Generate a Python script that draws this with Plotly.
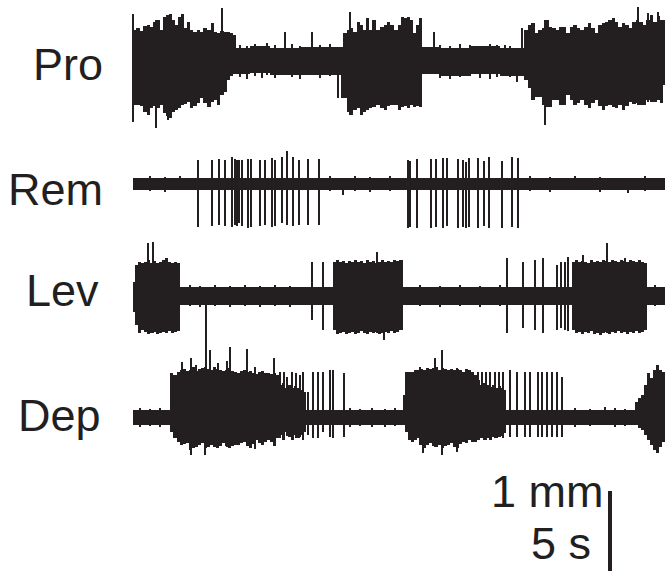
import plotly.graph_objects as go

INK = "#231f20"
FONT = "Liberation Sans, Arial, sans-serif"

# ---------------- data (time in samples, amplitude in a.u.; 80 a.u. = 1 mm) ----------------
CHANNELS = ["Pro", "Rem", "Lev", "Dep"]

# background noise bands: start, end, upper, lower
pro_band_t0 = [132, 250, 270, 300, 343, 440, 470, 500, 530]
pro_band_t1 = [250, 270, 300, 343, 440, 470, 500, 530, 665]
pro_band_hi = [14, 16, 14, 15, 15, 14, 16, 14, 14]
pro_band_lo = [-12, -11, -13, -13, -12, -14, -12, -14, -13]

rem_band_t0 = [133]
rem_band_t1 = [665]
rem_band_hi = [6]
rem_band_lo = [-6]

lev_band_t0 = [133]
lev_band_t1 = [665]
lev_band_hi = [9]
lev_band_lo = [-9]

dep_band_t0 = [133]
dep_band_t1 = [665]
dep_band_hi = [7]
dep_band_lo = [-8]

# bursts: sampled envelopes
pro_b1_t = [133, 136, 140, 143, 147, 150, 153, 156, 160, 163, 166, 169, 172, 175, 178, 181, 184, 187, 190, 193,
            197, 200, 203, 207, 211, 214, 217, 220, 224, 227, 230, 233]
pro_b1_hi = [32, 34, 31, 36, 37, 35, 40, 42, 32, 45, 47, 48, 42, 37, 45, 48, 34, 40, 32, 30,
             32, 30, 34, 32, 39, 30, 29, 31, 30, 30, 29, 27]
pro_b1_lo = [-43, -43, -44, -50, -53, -46, -44, -46, -43, -51, -54, -56, -50, -48, -46, -43, -42, -40, -46, -44,
             -41, -36, -41, -45, -40, -38, -43, -33, -30, -18, -14, -12]
pro_b1_end = 236

pro_b2_t = [343, 347, 350, 353, 357, 360, 363, 366, 369, 372, 376, 380, 384, 387, 390, 394, 398, 401, 404, 407,
            410, 413, 416, 419]
pro_b2_hi = [29, 32, 34, 30, 40, 37, 32, 44, 32, 42, 32, 35, 37, 40, 37, 32, 37, 45, 44, 45, 42, 29, 37, 44]
pro_b2_lo = [-36, -50, -53, -48, -46, -53, -50, -48, -46, -45, -43, -46, -48, -44, -43, -43, -48, -45, -44, -46,
             -43, -45, -44, -45]
pro_b2_end = 422

pro_b3_t = [524, 528, 531, 535, 538, 542, 545, 549, 552, 556, 559, 563, 566, 570, 573, 577, 580, 584, 588, 591,
            595, 598, 602, 605, 608, 612, 615, 618, 622, 625, 629, 632, 636, 639, 643, 646, 650, 653, 657, 660, 663]
pro_b3_hi = [32, 37, 39, 29, 32, 34, 42, 35, 34, 32, 35, 35, 29, 35, 37, 34, 32, 35, 39, 34,
             29, 37, 39, 40, 42, 44, 40, 35, 39, 37, 34, 40, 42, 40, 37, 42, 47, 40, 46, 42, 42]
pro_b3_lo = [-18, -26, -38, -35, -35, -43, -45, -45, -38, -38, -43, -43, -33, -38, -43, -41, -38, -43, -46, -41,
             -38, -44, -48, -44, -43, -45, -46, -43, -48, -44, -40, -42, -41, -43, -43, -38, -40, -40, -38, -41, -23]
pro_b3_end = 666

lev_b1_t = [133, 135, 138, 141, 144, 147, 150, 153, 156, 159, 162, 165, 168, 171, 174, 177]
lev_b1_hi = [14, 31, 34, 33, 34, 36, 33, 35, 33, 34, 36, 38, 34, 33, 34, 33]
lev_b1_lo = [-16, -29, -37, -34, -36, -38, -37, -36, -38, -37, -36, -37, -35, -37, -36, -35]
lev_b1_end = 180

lev_b2_t = [333, 336, 339, 342, 345, 348, 351, 354, 357, 360, 363, 366, 369, 372, 375, 378, 381, 384, 387, 390,
            393, 396, 399]
lev_b2_hi = [34, 36, 34, 35, 33, 35, 34, 36, 34, 35, 33, 36, 34, 35, 33, 34, 36, 34, 35, 34, 36, 35, 36]
lev_b2_lo = [-34, -38, -37, -36, -38, -37, -36, -38, -37, -35, -37, -38, -36, -37, -36, -38, -37, -36, -37, -35,
             -37, -36, -34]
lev_b2_end = 403

lev_b3_t = [572, 575, 578, 581, 584, 587, 590, 593, 596, 599, 602, 605, 608, 611, 614, 617, 620, 623, 626, 629,
            632, 635, 638, 641, 644]
lev_b3_hi = [34, 36, 34, 35, 34, 33, 36, 34, 35, 34, 36, 35, 34, 36, 35, 34, 36, 35, 34, 36, 35, 34, 36, 34, 33]
lev_b3_lo = [-34, -37, -36, -38, -36, -37, -35, -38, -37, -39, -37, -36, -38, -36, -37, -35, -37, -36, -38, -36,
             -37, -35, -37, -36, -34]
lev_b3_end = 647

dep_b1_t = [170, 173, 177, 180, 183, 186, 189, 192, 195, 198, 201, 204, 207, 210, 213, 216, 219, 222, 225, 228,
            231, 234, 237, 240, 243, 246, 249, 252, 255, 258, 261, 264, 267, 270, 273, 276, 279, 282, 285, 288,
            291, 294, 297, 300, 303]
dep_b1_hi = [44, 42, 45, 47, 48, 46, 47, 50, 46, 48, 49, 46, 48, 47, 50, 48, 47, 46, 47, 49,
             46, 45, 44, 46, 47, 45, 46, 44, 43, 45, 46, 44, 44, 43, 44, 42, 32, 34, 29, 32,
             29, 31, 29, 27, 25]
dep_b1_lo = [-15, -21, -25, -28, -27, -26, -33, -31, -30, -28, -26, -31, -30, -28, -30, -31, -29, -26, -29, -31,
             -29, -28, -28, -26, -25, -29, -31, -27, -23, -26, -28, -25, -23, -25, -29, -21, -18, -23, -15, -20,
             -23, -18, -21, -18, -15]
dep_b1_end = 306

dep_b2_t = [403, 405, 408, 411, 414, 417, 420, 423, 426, 429, 432, 435, 438, 441, 444, 447, 450, 453, 456, 459,
            462, 465, 468, 471, 474, 477, 480, 483, 486, 489, 492, 495, 498, 501, 504]
dep_b2_hi = [22, 45, 45, 45, 47, 47, 48, 47, 49, 48, 49, 50, 47, 49, 48, 47, 48, 47, 48, 47,
             45, 48, 47, 45, 42, 37, 32, 34, 32, 30, 32, 29, 31, 29, 27]
dep_b2_lo = [-6, -15, -23, -25, -23, -21, -28, -31, -28, -26, -29, -30, -28, -31, -29, -28, -26, -30, -31, -27,
             -25, -26, -23, -25, -25, -23, -21, -23, -21, -23, -20, -21, -20, -19, -16]
dep_b2_end = 506

dep_b3_t = [635, 638, 641, 644, 647, 650, 653, 656, 659, 662]
dep_b3_hi = [15, 19, 22, 32, 44, 39, 47, 52, 47, 45]
dep_b3_lo = [-8, -11, -13, -18, -23, -28, -33, -36, -30, -25]
dep_b3_end = 666

# individual spikes / noise peaks: time, upper, lower
pro_sp_t = [133, 156, 168, 222, 285, 312, 338, 342, 350, 434, 505, 517, 522, 545, 638, 648, 658,
            240, 247, 255, 262, 267, 275, 292, 300, 320, 330, 440, 450, 460, 470, 480, 490, 497, 510]
pro_sp_hi = [48, 42, 46, 54, 30, 30, 10, 12, 50, 30, 17, 12, 34, 42, 55, 49, 50,
             17, 16, 18, 15, 19, 17, 18, 16, 17, 18, 17, 16, 18, 17, 16, 18, 17, 16]
pro_sp_lo = [-60, -66, -58, -31, -6, -8, -36, -36, -53, -12, -12, -20, -13, -63, -43, -40, -38,
             -15, -17, -14, -16, -13, -16, -15, -17, -16, -14, -16, -17, -15, -14, -16, -17, -15, -15]

rem_sp_t = [198, 212, 219, 225, 232, 235, 237, 239, 242, 248, 251, 260, 265, 272, 275, 282, 287, 293, 299, 308, 319,
            408, 410, 417, 431, 436, 443, 447, 458, 463, 466, 469, 478, 484, 489, 502, 512, 518,
            150, 165, 180, 330, 343, 355, 370, 390, 530, 550, 575, 600, 628, 645]
rem_sp_hi = [24, 24, 25, 24, 27, 25, 24, 24, 24, 25, 25, 24, 24, 26, 24, 27, 33, 27, 24, 25, 25,
             24, 23, 25, 25, 25, 26, 26, 25, 24, 22, 26, 26, 23, 27, 23, 27, 26,
             8, 7, 8, 8, 5, 8, 7, 8, 8, 7, 8, 7, 5, 8]
rem_sp_lo = [-43, -42, -41, -42, -43, -41, -42, -39, -42, -44, -43, -42, -41, -43, -42, -39, -41, -42, -41, -41, -41,
             -44, -43, -44, -44, -43, -44, -42, -44, -43, -44, -43, -44, -42, -44, -44, -43, -44,
             -7, -8, -6, -7, -11, -7, -8, -7, -7, -8, -6, -8, -9, -7]

lev_sp_t = [148, 153, 206, 312, 323, 377, 384, 507, 523, 535, 543, 557, 561, 565, 568, 583, 607, 625,
            190, 200, 215, 230, 245, 260, 275, 290, 420, 440, 460, 480, 500, 655]
lev_sp_hi = [53, 54, 5, 34, 34, 44, 34, 38, 34, 36, 38, 31, 34, 34, 39, 41, 53, 38,
             11, 10, 11, 10, 11, 10, 11, 10, 11, 10, 11, 10, 11, 11]
lev_sp_lo = [-36, -37, -49, -24, -34, -37, -44, -37, -32, -34, -37, -34, -32, -34, -35, -36, -37, -36,
             -10, -11, -10, -11, -10, -11, -10, -11, -10, -11, -10, -11, -10, -10]

dep_sp_t = [182, 191, 196, 205, 206, 210, 218, 227, 230, 247, 255, 274, 280, 284, 287, 292, 296, 300, 303,
            308, 313, 318, 323, 330, 333, 344, 420, 423, 435, 442, 457, 478, 482, 486, 490, 495, 499, 503,
            510, 517, 525, 530, 538, 542, 547, 552, 557, 562, 605,
            140, 150, 160, 350, 360, 372, 385, 395, 575, 590, 615, 625]
dep_sp_hi = [55, 59, 52, 50, 79, 67, 54, 56, 70, 68, 50, 59, 45, 45, 40, 45, 44, 42, 45,
             25, 45, 45, 45, 47, 47, 44, 50, 47, 59, 67, 49, 45, 45, 45, 45, 45, 45, 45,
             47, 45, 45, 45, 45, 45, 45, 45, 45, 40, 10,
             9, 8, 9, 9, 8, 9, 8, 9, 9, 8, 9, 8]
dep_sp_lo = [-28, -38, -30, -38, -30, -28, -31, -30, -31, -29, -32, -29, -21, -23, -19, -23, -21, -20, -23,
             -18, -21, -21, -15, -20, -21, -20, -28, -36, -30, -38, -35, -23, -21, -23, -21, -21, -20, -21,
             -20, -20, -20, -20, -20, -20, -20, -20, -20, -20, -8,
             -10, -9, -10, -10, -9, -10, -10, -9, -10, -9, -10, -9]

# scale bar
SCALE_LABEL_V = "1 mm"
SCALE_LABEL_T = "5 s"
SCALE_LEN = 80  # a.u. per 1 mm

# ---------------- layout constants ----------------
W, H = 665, 571
OFFSET = {"Pro": 509, "Rem": 387, "Lev": 275, "Dep": 154}
LABEL_X = {"Pro": 105, "Rem": 105, "Lev": 101, "Dep": 103}
LABEL_Y = {"Pro": 507, "Rem": 382, "Lev": 281, "Dep": 156}
SPIKE_W = 2.0

bands = {
    "Pro": (pro_band_t0, pro_band_t1, pro_band_hi, pro_band_lo),
    "Rem": (rem_band_t0, rem_band_t1, rem_band_hi, rem_band_lo),
    "Lev": (lev_band_t0, lev_band_t1, lev_band_hi, lev_band_lo),
    "Dep": (dep_band_t0, dep_band_t1, dep_band_hi, dep_band_lo),
}
bursts = {
    "Pro": [(pro_b1_t, pro_b1_hi, pro_b1_lo, pro_b1_end),
            (pro_b2_t, pro_b2_hi, pro_b2_lo, pro_b2_end),
            (pro_b3_t, pro_b3_hi, pro_b3_lo, pro_b3_end)],
    "Rem": [],
    "Lev": [(lev_b1_t, lev_b1_hi, lev_b1_lo, lev_b1_end),
            (lev_b2_t, lev_b2_hi, lev_b2_lo, lev_b2_end),
            (lev_b3_t, lev_b3_hi, lev_b3_lo, lev_b3_end)],
    "Dep": [(dep_b1_t, dep_b1_hi, dep_b1_lo, dep_b1_end),
            (dep_b2_t, dep_b2_hi, dep_b2_lo, dep_b2_end),
            (dep_b3_t, dep_b3_hi, dep_b3_lo, dep_b3_end)],
}
spikes = {
    "Pro": (pro_sp_t, pro_sp_hi, pro_sp_lo),
    "Rem": (rem_sp_t, rem_sp_hi, rem_sp_lo),
    "Lev": (lev_sp_t, lev_sp_hi, lev_sp_lo),
    "Dep": (dep_sp_t, dep_sp_hi, dep_sp_lo),
}

fig = go.Figure()


def add_bars(x, hi, lo, width, offset, off):
    assert len(x) == len(hi) == len(lo), (len(x), len(hi), len(lo))
    fig.add_trace(go.Bar(
        x=x, y=[h - l for h, l in zip(hi, lo)], base=[off + l for l in lo],
        width=width, offset=offset, marker=dict(color=INK, line=dict(width=0)),
        hoverinfo="skip", showlegend=False))


for ch in CHANNELS:
    off = OFFSET[ch]
    t0, t1, hi, lo = bands[ch]
    add_bars(t0, hi, lo, [b - a for a, b in zip(t0, t1)], 0, off)
    for t, bh, bl, end in bursts[ch]:
        widths = [b - a for a, b in zip(t, t[1:] + [end])]
        add_bars(t, bh, bl, widths, 0, off)
    st, sh, sl = spikes[ch]
    add_bars(st, sh, sl, SPIKE_W, -SPIKE_W / 2, off)

annotations = []
for ch in CHANNELS:
    annotations.append(dict(x=LABEL_X[ch], y=LABEL_Y[ch], text=ch, showarrow=False,
                            xanchor="right", yanchor="middle",
                            font=dict(family=FONT, size=45, color=INK)))
annotations.append(dict(x=606, y=80, text=SCALE_LABEL_V, showarrow=False, xanchor="right",
                        yanchor="middle", font=dict(family=FONT, size=45, color=INK)))
annotations.append(dict(x=593, y=28, text=SCALE_LABEL_T, showarrow=False, xanchor="right",
                        yanchor="middle", font=dict(family=FONT, size=45, color=INK)))

fig.update_layout(
    width=W, height=H, margin=dict(l=0, r=0, t=0, b=0),
    paper_bgcolor="white", plot_bgcolor="white",
    barmode="overlay", bargap=0, showlegend=False,
    xaxis=dict(range=[0, W], visible=False, fixedrange=True),
    yaxis=dict(range=[0, H], visible=False, fixedrange=True),
    annotations=annotations,
    shapes=[dict(type="line", xref="x", yref="y", x0=610, x1=610, y0=-2, y1=SCALE_LEN,
                 line=dict(color=INK, width=4))],
)

fig.write_html(
    "out.html",
    config={"displayModeBar": False, "staticPlot": True},
    post_script="document.body.style.margin='0';document.body.style.overflow='hidden';",
)
